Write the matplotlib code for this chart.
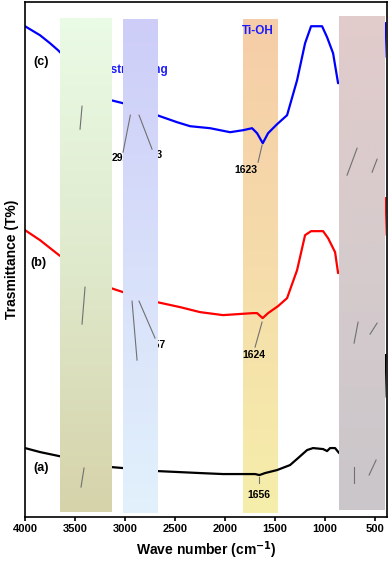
import matplotlib.pyplot as plt
import numpy as np
from matplotlib.colors import LinearSegmentedColormap

plt.rcParams['font.family'] = ['Liberation Sans', 'DejaVu Sans']
plt.rcParams['font.weight'] = 'bold'

# --- data (wavenumber cm-1, transmittance a.u.) ---
wn_c = [4000, 3850, 3750, 3670, 3650, 3140, 3020, 2680, 2480, 2350, 2150, 1950,
        1820, 1730, 1680, 1623, 1570, 1480, 1380, 1280, 1200, 1140, 1030, 980,
        920, 870, 408, 398]
t_c = [491, 482, 474, 467, 465, 417, 414, 402, 395, 391, 389, 385, 387, 389,
       384, 374, 384, 393, 402, 437, 474, 491, 491, 480, 464, 434, 460, 494]

wn_b = [4000, 3850, 3660, 3140, 3020, 2680, 2450, 2250, 2020, 1720, 1680, 1624,
        1570, 1470, 1380, 1280, 1200, 1140, 1020, 970, 900, 870, 408, 398]
t_b = [287, 277, 262, 229, 225, 215, 210, 205, 202, 204, 204, 199, 204, 211,
       219, 247, 282, 286, 286, 279, 265, 244, 282, 319]

wn_a = [4000, 3850, 3660, 3140, 3020, 2680, 2250, 2020, 1700, 1656, 1600, 1480,
        1350, 1270, 1180, 1120, 1020, 980, 950, 900, 860, 408, 398]
t_a = [69, 65, 61, 50, 49, 46, 44, 43, 43, 42, 44, 47, 52, 59, 67, 69, 68, 66,
       69, 69, 64, 120, 162]

# shaded regions: (wn_left, wn_right, y_bottom, y_top, colours top->bottom)
bands = [
    (3650, 3140, 5, 499, ['#eafbe6', '#dfe9cc', '#d6d3aa']),
    (3020, 2680, 4, 498, ['#cdcdf8', '#d8e0fa', '#e2f1fc']),
    (1820, 1480, 4, 498, ['#f6cda8', '#f5dcaa', '#f6eeaa']),
    (860, 410, 7, 501, ['#e2cbcb', '#d6cbcd', '#cac6ca']),
]

# peak marker segments (wn1, y1, wn2, y2)
markers = [
    (3430, 411, 3450, 388), (2947, 402, 3020, 365), (2860, 402, 2730, 368),
    (1630, 372, 1670, 355), (680, 369, 780, 342), (480, 358, 530, 345),
    (3400, 230, 3430, 193), (2930, 216, 2880, 157), (2860, 216, 2700, 179),
    (1630, 195, 1700, 170), (670, 195, 710, 174), (480, 194, 550, 183),
    (3410, 49, 3440, 30), (1660, 40, 1660, 34), (710, 50, 710, 34),
    (490, 57, 560, 42),
]

fig = plt.figure(figsize=(3.91, 5.62), dpi=100)
ax = fig.add_axes([0.064, 0.080, 0.926, 0.916])

ax.plot(wn_c, t_c, color='#0000ff', lw=1.6, zorder=2)
ax.plot(wn_b, t_b, color='#ff0000', lw=1.6, zorder=2)
ax.plot(wn_a, t_a, color='black', lw=1.6, zorder=2)

for i, (x0, x1, y0, y1, cols) in enumerate(bands):
    cmap = LinearSegmentedColormap.from_list('band%d' % i, cols[::-1])
    grad = np.linspace(0, 1, 256).reshape(-1, 1)
    z = 1.5 if i == 2 else 3
    ax.imshow(grad, cmap=cmap, origin='lower', aspect='auto',
              extent=(x0, x1, y0, y1), zorder=z, interpolation='bilinear')

for x0, y0, x1, y1 in markers:
    ax.plot([x0, x1], [y0, y1], color='#707070', lw=0.8, zorder=4)

# labels, partly hidden behind the bands like the original
ax.text(3840, 455, '(c)', fontsize=9, ha='center', va='center', zorder=5)
ax.text(3870, 254, '(b)', fontsize=9, ha='center', va='center', zorder=5)
ax.text(3840, 49, '(a)', fontsize=9, ha='center', va='center', zorder=5)
ax.text(2570, 447, 'O-H stretching', fontsize=8.5, color='#1a1aff',
        ha='right', va='center', zorder=1)
ax.text(1670, 486, 'Ti-OH', fontsize=8.5, color='#1a1aff',
        ha='center', va='center', zorder=5)
ax.text(3130, 359, '2920', fontsize=7.5, ha='left', va='center', zorder=1)
ax.text(2620, 362, '2853', fontsize=7.5, ha='right', va='center', zorder=1)
ax.text(2590, 172, '2857', fontsize=7.5, ha='right', va='center', zorder=1)
ax.text(1795, 347, '1623', fontsize=7.5, ha='center', va='center', zorder=5)
ax.text(1710, 162, '1624', fontsize=7.5, ha='center', va='center', zorder=5)
ax.text(1665, 22, '1656', fontsize=7.5, ha='center', va='center', zorder=5)

ax.set_xlim(4000, 380)
ax.set_ylim(0, 515)
ax.set_xticks([4000, 3500, 3000, 2500, 2000, 1500, 1000, 500])
ax.set_yticks([])
ax.tick_params(axis='x', direction='out', length=3, width=1.2, labelsize=8, pad=2)
for lab in ax.get_xticklabels():
    lab.set_fontweight('bold')
for sp in ax.spines.values():
    sp.set_linewidth(1.2)
ax.set_xlabel('Wave number (cm$^{\\mathbf{-1}}$)', fontsize=10, fontweight='bold', labelpad=4)
ax.set_ylabel('Trasmittance (T%)', fontsize=10, fontweight='bold', labelpad=4)

fig.savefig('out.png', dpi=100)
